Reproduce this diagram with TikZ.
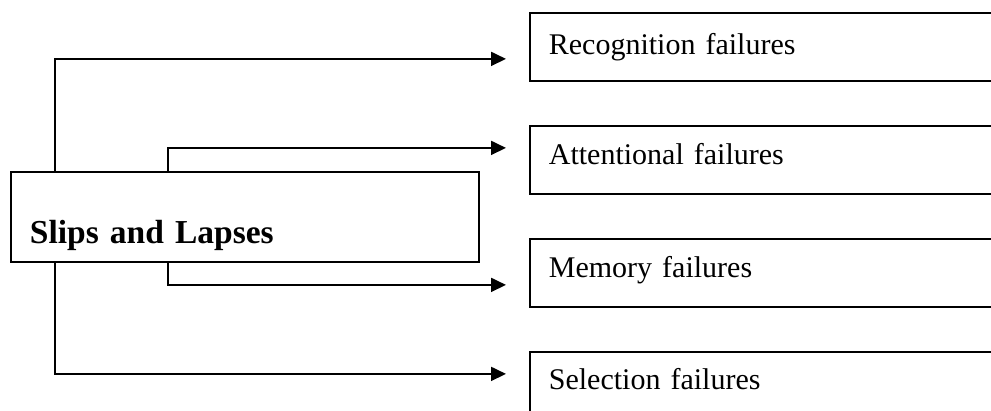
\documentclass[tikz,border=0pt]{standalone}
\usepackage{fontspec}
\setmainfont{Liberation Serif}
\usetikzlibrary{arrows.meta,positioning}
\tikzset{
  catbox/.style  = {draw, line width=1.8pt, anchor=north west, align=left,
                    text width=540pt, inner xsep=19pt, inner ysep=0pt,
                    text height=40pt, text depth=28pt,
                    font=\fontsize{30}{36}\selectfont},
  mainbox/.style = {draw, line width=1.8pt, anchor=north west, align=left,
                    text width=430pt, inner xsep=19pt, inner ysep=0pt,
                    text height=72pt, text depth=18pt,
                    font=\fontsize{33.5}{40}\selectfont\bfseries},
  arr/.style     = {-{Triangle[length=15pt,width=14pt]}, line width=1.8pt},
}

\begin{document}
\begin{tikzpicture}[x=1pt,y=-1pt]
  \useasboundingbox (0,0) rectangle (991,411);
  \clip (0,0) rectangle (991,411);
  % main box
  \node[mainbox] (slips) at (10,171) {Slips and Lapses};
  % failure types
  \node[catbox, text height=42pt, text depth=26pt] (recog) at (529,12) {Recognition failures};
  \node[catbox, text height=39pt, text depth=29pt] (atten) at (529,125) {Attentional failures};
  \node[catbox, text height=39pt, text depth=29pt] (memory) at (529,238) {Memory failures};
  \node[catbox, text height=38pt, text depth=30pt] (select) at (529,351) {Selection failures};
  % branch points and arrow ends
  \coordinate (outer) at (55,0);
  \coordinate (inner) at (168,0);
  \coordinate (e1) at ([shift={(-23,12)}]recog.west);
  \coordinate (e2) at ([shift={(-23,-12)}]atten.west);
  \coordinate (e3) at ([shift={(-23,12)}]memory.west);
  \coordinate (e4) at ([shift={(-23,-12)}]select.west);
  \draw[arr] (slips.north -| outer) |- (e1);
  \draw[arr] (slips.north -| inner) |- (e2);
  \draw[arr] (slips.south -| inner) |- (e3);
  \draw[arr] (slips.south -| outer) |- (e4);
\end{tikzpicture}
\end{document}
